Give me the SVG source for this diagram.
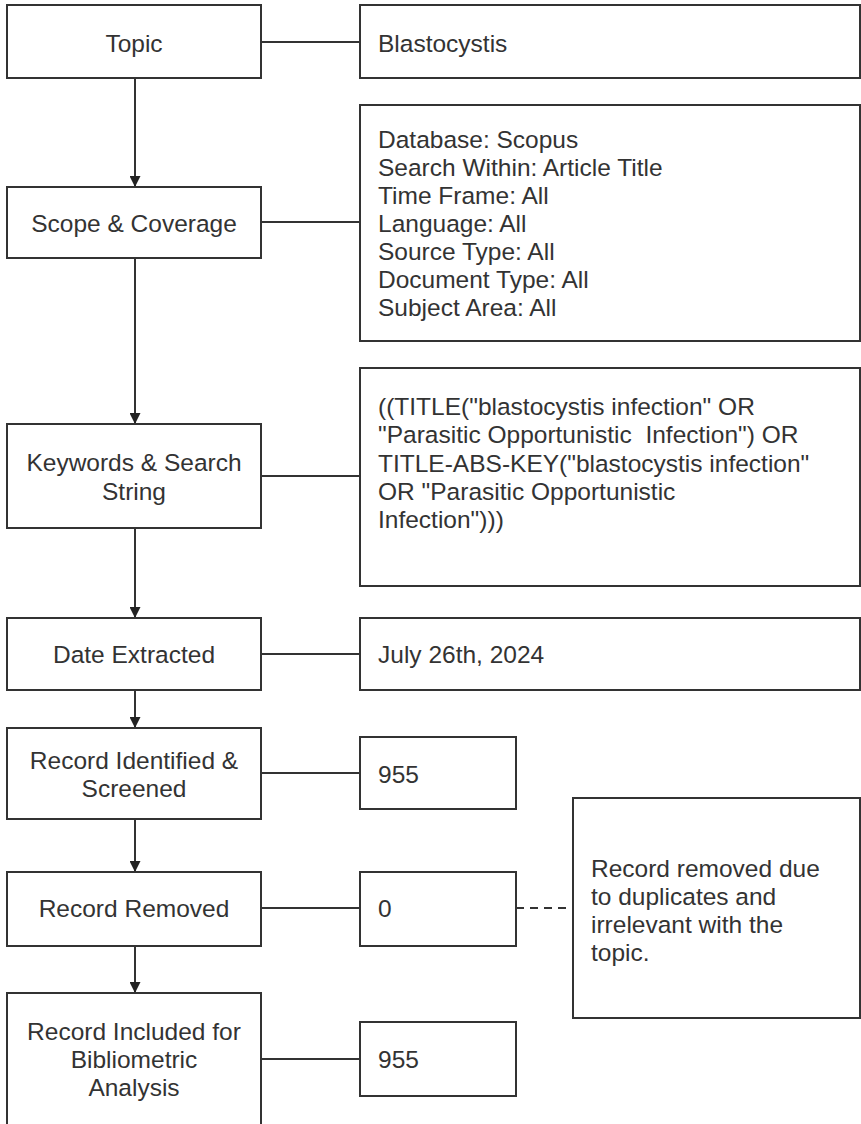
<svg xmlns="http://www.w3.org/2000/svg" width="861" height="1124" viewBox="0 0 861 1124">
<defs>
<marker id="arr" viewBox="0 0 10 10" refX="10" refY="5" markerWidth="11" markerHeight="11" markerUnits="userSpaceOnUse" orient="auto">
<path d="M0,0 L10,5 L0,10 Z" fill="#222"/>
</marker>
<style>
.box{fill:#fff;stroke:#333;stroke-width:2}
.t{font-family:"Liberation Sans",Arial,sans-serif;font-size:24.5px;fill:#333}
.c{text-anchor:middle}
.ln{stroke:#333;stroke-width:2;fill:none}
.dash{stroke:#333;stroke-width:2;fill:none;stroke-dasharray:8 6}
</style>
</defs>
<rect width="861" height="1124" fill="#fff"/>
<g id="connectors">
<line class="ln" x1="135" y1="78" x2="135" y2="187" marker-end="url(#arr)"/>
<line class="ln" x1="135" y1="258" x2="135" y2="424" marker-end="url(#arr)"/>
<line class="ln" x1="135" y1="528" x2="135" y2="618" marker-end="url(#arr)"/>
<line class="ln" x1="135" y1="690" x2="135" y2="728" marker-end="url(#arr)"/>
<line class="ln" x1="135" y1="819" x2="135" y2="872" marker-end="url(#arr)"/>
<line class="ln" x1="135" y1="946" x2="135" y2="993" marker-end="url(#arr)"/>
<line class="ln" x1="261" y1="42" x2="360" y2="42"/>
<line class="ln" x1="261" y1="222" x2="360" y2="222"/>
<line class="ln" x1="261" y1="476" x2="360" y2="476"/>
<line class="ln" x1="261" y1="654" x2="360" y2="654"/>
<line class="ln" x1="261" y1="773" x2="360" y2="773"/>
<line class="ln" x1="261" y1="908" x2="360" y2="908"/>
<line class="ln" x1="261" y1="1059" x2="360" y2="1059"/>
<line class="dash" x1="516" y1="908" x2="573" y2="908"/>
</g>
<g id="topic">
<rect class="box" x="7" y="5" width="254" height="73"/>
<text class="t c" x="134" y="52">Topic</text>
</g>
<g id="topic-value">
<rect class="box" x="360" y="5" width="500" height="73"/>
<text class="t" x="378" y="52">Blastocystis</text>
</g>
<g id="scope">
<rect class="box" x="7" y="187" width="254" height="71"/>
<text class="t c" x="134" y="232">Scope &amp; Coverage</text>
</g>
<g id="scope-value">
<rect class="box" x="360" y="105" width="500" height="236"/>
<text class="t" x="378" y="148">Database: Scopus</text>
<text class="t" x="378" y="176">Search Within: Article Title</text>
<text class="t" x="378" y="204">Time Frame: All</text>
<text class="t" x="378" y="232">Language: All</text>
<text class="t" x="378" y="260">Source Type: All</text>
<text class="t" x="378" y="288">Document Type: All</text>
<text class="t" x="378" y="316">Subject Area: All</text>
</g>
<g id="keywords">
<rect class="box" x="7" y="424" width="254" height="104"/>
<text class="t c" x="134" y="471">Keywords &amp; Search</text>
<text class="t c" x="134" y="500">String</text>
</g>
<g id="keywords-value">
<rect class="box" x="360" y="368" width="500" height="218"/>
<text class="t" x="378" y="415">((TITLE("blastocystis infection" OR</text>
<text class="t" x="378" y="443" xml:space="preserve">"Parasitic Opportunistic  Infection") OR</text>
<text class="t" x="378" y="472">TITLE-ABS-KEY("blastocystis infection"</text>
<text class="t" x="378" y="500">OR "Parasitic Opportunistic</text>
<text class="t" x="378" y="528">Infection")))</text>
</g>
<g id="date">
<rect class="box" x="7" y="618" width="254" height="72"/>
<text class="t c" x="134" y="663">Date Extracted</text>
</g>
<g id="date-value">
<rect class="box" x="360" y="618" width="500" height="72"/>
<text class="t" x="378" y="663">July 26th, 2024</text>
</g>
<g id="identified">
<rect class="box" x="7" y="728" width="254" height="91"/>
<text class="t c" x="134" y="769">Record Identified &amp;</text>
<text class="t c" x="134" y="797">Screened</text>
</g>
<g id="identified-value">
<rect class="box" x="360" y="737" width="156" height="72"/>
<text class="t" x="378" y="783">955</text>
</g>
<g id="removed">
<rect class="box" x="7" y="872" width="254" height="74"/>
<text class="t c" x="134" y="917">Record Removed</text>
</g>
<g id="removed-value">
<rect class="box" x="360" y="872" width="156" height="74"/>
<text class="t" x="378" y="917">0</text>
</g>
<g id="removed-note">
<rect class="box" x="573" y="798" width="287" height="220"/>
<text class="t" x="591" y="877">Record removed due</text>
<text class="t" x="591" y="905">to duplicates and</text>
<text class="t" x="591" y="933">irrelevant with the</text>
<text class="t" x="591" y="961">topic.</text>
</g>
<g id="included">
<rect class="box" x="7" y="993" width="254" height="135"/>
<text class="t c" x="134" y="1040">Record Included for</text>
<text class="t c" x="134" y="1068">Bibliometric</text>
<text class="t c" x="134" y="1096">Analysis</text>
</g>
<g id="included-value">
<rect class="box" x="360" y="1022" width="156" height="74"/>
<text class="t" x="378" y="1068">955</text>
</g>
</svg>
